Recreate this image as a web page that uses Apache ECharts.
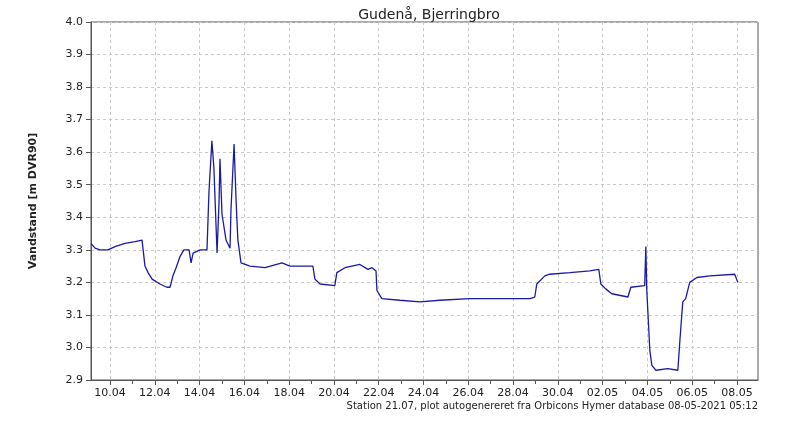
<!DOCTYPE html>
<html>
<head>
<meta charset="utf-8">
<script src="https://cdn.jsdelivr.net/npm/echarts@6/dist/echarts.min.js"></script>
<style>html,body{margin:0;padding:0;background:#fff}#chart{width:800px;height:446px}</style>
</head>
<body>
<div id="chart"></div>
<script>
// days counted from 10.04 00:00
var days = [-0.85, -0.67, -0.45, -0.09, 0.22, 0.67, 1.12, 1.43, 1.56, 1.70, 1.88, 2.23, 2.54, 2.68, 2.81, 2.95,
	3.13, 3.30, 3.53, 3.62, 3.71, 4.02, 4.33, 4.42, 4.55, 4.64, 4.78, 4.87, 4.91, 5.00, 5.18, 5.36, 5.40, 5.54,
	5.63, 5.71, 5.85, 6.25, 6.92, 7.68, 8.04, 8.93, 9.06, 9.15, 9.38, 10.04, 10.13, 10.49, 11.16, 11.52, 11.70,
	11.88, 11.92, 12.14, 12.95, 13.84, 14.73, 16.07, 17.41, 18.75, 18.97, 19.06, 19.42, 19.64, 20.54, 21.43,
	21.83, 21.92, 22.14, 22.41, 23.13, 23.26, 23.88, 23.93, 23.97, 24.11, 24.20, 24.38, 24.91, 25.36, 25.45,
	25.58, 25.71, 25.89, 26.21, 26.79, 27.90, 28.04];
var levels = [3.32, 3.305, 3.30, 3.30, 3.31, 3.32, 3.325, 3.33, 3.25, 3.23, 3.21, 3.195, 3.185, 3.185, 3.22, 3.245,
	3.28, 3.30, 3.30, 3.26, 3.29, 3.30, 3.30, 3.48, 3.635, 3.55, 3.29, 3.45, 3.58, 3.41, 3.33, 3.305, 3.42, 3.625,
	3.45, 3.33, 3.26, 3.25, 3.245, 3.26, 3.25, 3.25, 3.25, 3.21, 3.195, 3.19, 3.23, 3.245, 3.255, 3.24, 3.245,
	3.235, 3.175, 3.15, 3.145, 3.14, 3.145, 3.15, 3.15, 3.15, 3.155, 3.195, 3.22, 3.225, 3.23, 3.235,
	3.24, 3.195, 3.18, 3.165, 3.155, 3.185, 3.19, 3.31, 3.18, 2.99, 2.945, 2.93, 2.935, 2.93, 3.02,
	3.14, 3.15, 3.20, 3.215, 3.22, 3.225, 3.20];
var tickDays = [0, 2, 4, 6, 8, 10, 12, 14, 16, 18, 20, 22, 24, 26, 28];
var tickLabels = ['10.04', '12.04', '14.04', '16.04', '18.04', '20.04', '22.04', '24.04', '26.04', '28.04',
	'30.04', '02.05', '04.05', '06.05', '08.05'];
var allDays = [];
for (var i = 0; i <= 28; i++) allDays.push(i);

var points = days.map(function (d, i) { return [d, levels[i]]; });
var chart = echarts.init(document.getElementById('chart'));
chart.setOption({
	animation: false,
	title: {
		text: 'Gudenå, Bjerringbro',
		left: 424, textAlign: 'center', top: 3,
		textStyle: { fontFamily: 'DejaVu Sans', fontSize: 14, fontWeight: 'normal', color: '#222' }
	},
	graphic: [{
		type: 'text', right: 42, top: 401,
		style: { text: 'Station 21.07, plot autogenereret fra Orbicons Hymer database 08-05-2021 05:12',
			font: '10px DejaVu Sans', fill: '#222' }
	}],
	grid: { left: 91, right: 42, top: 22, bottom: 66, show: true, borderColor: '#555', borderWidth: 1 },
	xAxis: [{
		type: 'value', min: -0.85, max: 28.94,
		axisLine: { onZero: false, lineStyle: { color: '#555' } },
		axisTick: { customValues: tickDays, length: 5, lineStyle: { color: '#555' } },
		axisLabel: {
			customValues: tickDays, fontFamily: 'DejaVu Sans', fontSize: 11, color: '#222', margin: 8,
			formatter: function (v) { return tickLabels[tickDays.indexOf(Math.round(v))] || ''; }
		},
		splitLine: { show: true, lineStyle: { color: '#c8c8c8', type: [3, 3] } }
	}, {
		type: 'value', min: -0.85, max: 28.94, position: 'bottom',
		axisLine: { show: false, onZero: false },
		axisTick: { customValues: allDays, length: 4, lineStyle: { color: '#555' } },
		axisLabel: { show: false },
		splitLine: { show: false }
	}],
	yAxis: {
		type: 'value', min: 2.9, max: 4.0, interval: 0.1,
		name: 'Vandstand [m DVR90]', nameLocation: 'middle', nameGap: 52,
		nameTextStyle: { fontFamily: 'DejaVu Sans', fontSize: 11, fontWeight: 'bold', color: '#222' },
		axisLine: { show: true, onZero: false, lineStyle: { color: '#555' } },
		axisTick: { show: true, length: 5, lineStyle: { color: '#555' } },
		axisLabel: { fontFamily: 'DejaVu Sans', fontSize: 11, color: '#222', formatter: function (v) { return v.toFixed(1); } },
		splitLine: { lineStyle: { color: '#c8c8c8', type: [3, 3] } }
	},
	series: [{
		type: 'line', data: points, showSymbol: false,
		lineStyle: { color: '#1a1aa6', width: 1.3 }
	}]
});
</script>
</body>
</html>
